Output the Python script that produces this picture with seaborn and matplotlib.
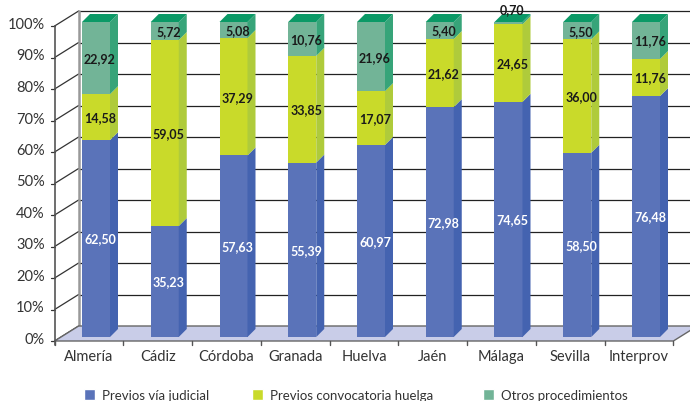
import pandas as pd
import matplotlib.pyplot as plt
import seaborn as sns
from matplotlib.patches import Polygon, Patch

# Data
provincias = ["Almería", "Cádiz", "Córdoba", "Granada", "Huelva", "Jaén", "Málaga", "Sevilla", "Interprov"]
judicial = [62.50, 35.23, 57.63, 55.39, 60.97, 72.98, 74.65, 58.50, 76.48]
huelga = [14.58, 59.05, 37.29, 33.85, 17.07, 21.62, 24.65, 36.00, 11.76]
otros = [22.92, 5.72, 5.08, 10.76, 21.96, 5.40, 0.70, 5.50, 11.76]
series_names = ["Previos vía judicial", "Previos convocatoria huelga", "Otros procedimientos"]
y_ticks = list(range(0, 101, 10))

front_cols = ["#5a73b9", "#c9da2a", "#72b497"]
side_cols = ["#4463b0", "#afcb3b", "#37a479"]
top_col = "#0b9966"
label_cols = ["white", "#1a1a1a", "#1a1a1a"]

sns.set_style("white")
plt.rcParams["font.family"] = ["Lato", "DejaVu Sans"]

# pixel geometry of the fake 3d look
W, H = 690, 402
X0, DX = 96, 68.75   # centre of first bar, pixels per category
Y0, DY = 338, 3.15   # bar base, pixels per percent


def ux(p):
    return p / DX


def uy(p):
    return p / DY


fig = plt.figure(figsize=(W / 100, H / 100), dpi=100)
ax = fig.add_axes([0, 0, 1, 1])

df = pd.DataFrame({"provincia": provincias, "judicial": judicial,
                   "huelga": huelga, "otros": otros})
df["c1"] = df["judicial"]
df["c2"] = df["judicial"] + df["huelga"]
df["c3"] = df["c2"] + df["otros"]

bar_w = ux(28)
# stacked front faces: draw tallest first
for col, c in zip(["c3", "c2", "c1"], front_cols[::-1]):
    sns.barplot(data=df, x="provincia", y=col, color=c, width=bar_w,
                saturation=1, errorbar=None, ax=ax, zorder=3, linewidth=0)

bdx, bdy = ux(8), uy(8)
for i, row in df.iterrows():
    xl, xr = i - bar_w / 2, i + bar_w / 2
    bottoms = [0, row["c1"], row["c2"]]
    vals = [row["judicial"], row["huelga"], row["otros"]]
    for k in range(3):
        b, t = bottoms[k], bottoms[k] + vals[k]
        ax.add_patch(Polygon([(xr, b), (xr + bdx, b + bdy), (xr + bdx, t + bdy), (xr, t)],
                             closed=True, facecolor=side_cols[k], edgecolor="none", zorder=3))
        ty = b + vals[k] / 2 if vals[k] >= 2 else t + 4.2
        ax.text(i + ux(4), ty, f"{vals[k]:.2f}".replace(".", ","), ha="center", va="center",
                fontsize=9, fontweight="bold", color=label_cols[k], zorder=5)
    T = row["c3"]
    ax.add_patch(Polygon([(xl, T), (xl + bdx, T + bdy), (xr + bdx, T + bdy), (xr, T)],
                         closed=True, facecolor=top_col, edgecolor="none", zorder=3))

# floor, walls, grid
n = len(provincias)
shift = ux(-7)
x_left, x_right = -0.5 + shift, n - 0.5 + shift
front0 = uy(-4)
ddx, ddy = ux(24), uy(15)

ax.add_patch(Polygon([(x_left, front0), (x_right, front0), (x_right + ddx, front0 + ddy),
                      (x_left + ddx, front0 + ddy)], closed=True,
                     facecolor="#c9cde8", edgecolor="#666666", lw=1, zorder=1))

for t in y_ticks:
    if t > 0:
        ax.plot([x_left + ddx, x_right + ddx], [front0 + ddy + t] * 2,
                color="#222222", lw=0.9, zorder=0.5)
    ax.plot([x_left, x_left + ddx], [front0 + t, front0 + ddy + t],
            color="#333333", lw=0.9, zorder=0.6)
    ax.plot([x_left - ux(4), x_left], [front0 + t] * 2, color="#333333", lw=0.9)
    ax.text(x_left - ux(10), front0 + t + uy(2), f"{t}%", ha="right", va="center",
            fontsize=10.5, color="#333333")

ax.plot([x_left, x_left], [front0 - uy(4), front0 + 100], color="#555555", lw=1.2, zorder=2)
ax.plot([x_left + ddx] * 2, [front0 + ddy, front0 + ddy + 100], color="#999999", lw=1.8, zorder=0.7)

for k in range(n + 1):
    ax.plot([x_left + k] * 2, [front0, front0 - uy(4)], color="#555555", lw=1)
for i, name in enumerate(provincias):
    ax.text(i + shift, front0 - uy(15), name, ha="center", va="center",
            fontsize=10.5, color="#333333")

ax.set_xlim(-X0 / DX, (W - X0) / DX)
ax.set_ylim((Y0 - H) / DY, Y0 / DY)
ax.set_axis_off()

# legend
for name, c, lx in zip(series_names, front_cols, [84, 252, 483]):
    fig.legend(handles=[Patch(facecolor=c)], labels=[name], loc="center left",
               bbox_to_anchor=(lx / W, 1 - 396 / H), frameon=False, fontsize=9.5,
               handlelength=0.85, handleheight=0.85, handletextpad=0.5,
               borderpad=0, borderaxespad=0, labelcolor="#333333")

fig.savefig("out.png", dpi=100)
